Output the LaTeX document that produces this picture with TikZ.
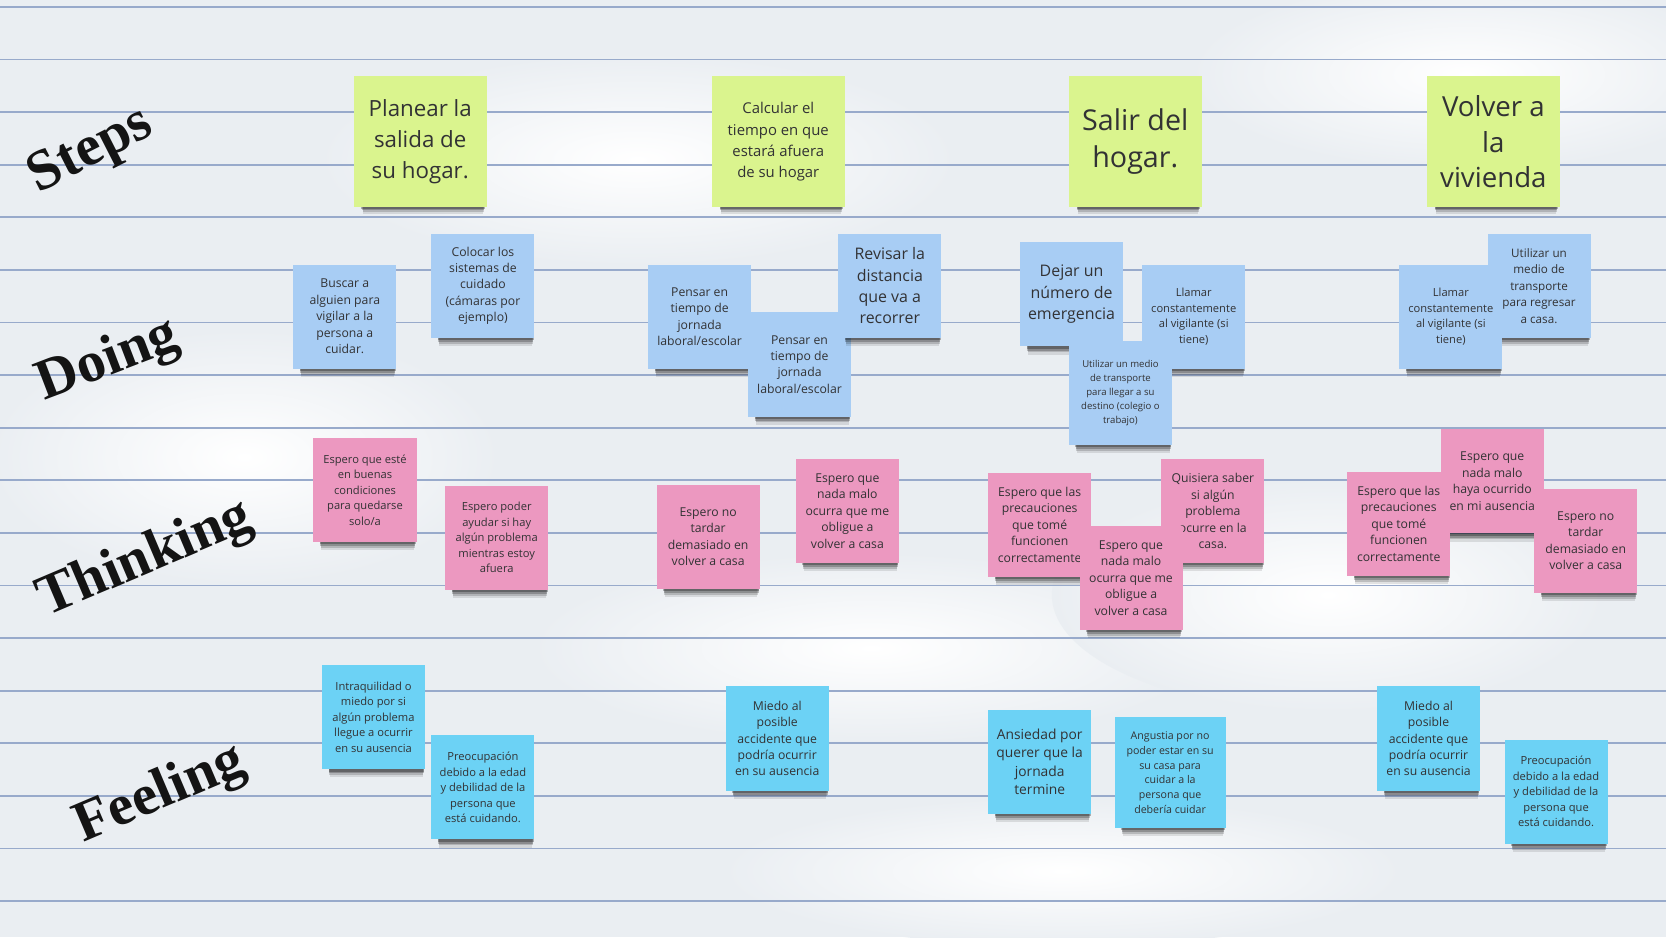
\documentclass[tikz,border=0pt]{standalone}
\usepackage{fontspec}
\setmainfont{Open Sans}
\newfontfamily\labelfont{Liberation Serif}
\usetikzlibrary{shadows}
\definecolor{paper}{RGB}{234,238,242}
\definecolor{rulec}{RGB}{152,170,203}
\definecolor{stepc}{RGB}{218,244,142}
\definecolor{doc}{RGB}{168,205,244}
\definecolor{thinkc}{RGB}{236,152,192}
\definecolor{feelc}{RGB}{108,210,245}
\definecolor{ink}{RGB}{50,50,52}
\tikzset{
  shd/.style={
    general shadow={fill=black, opacity=0.10, shadow scale=0.90, shadow xshift=3pt, shadow yshift=-14pt},
    general shadow={fill=black, opacity=0.16, shadow scale=0.91, shadow xshift=3pt, shadow yshift=-11pt},
    general shadow={fill=black, opacity=0.22, shadow scale=0.92, shadow xshift=3pt, shadow yshift=-8.5pt},
    general shadow={fill=black, opacity=0.28, shadow scale=0.93, shadow xshift=3pt, shadow yshift=-6pt}},
  note/.style={shd, anchor=north west, inner sep=0pt, outer sep=0pt, align=center, text=ink,
    minimum width=97pt, minimum height=98pt},
  stepnote/.style={note, fill=stepc, minimum width=125pt, minimum height=123pt},
  donote/.style={note, fill=doc},
  thnote/.style={note, fill=thinkc},
  fenote/.style={note, fill=feelc},
  fsA/.style={font=\fontsize{11.5}{15.5}\selectfont},
  fsB/.style={font=\fontsize{10.5}{14.6}\selectfont},
  fsC/.style={font=\fontsize{15}{20}\selectfont},
  rowlabel/.style={font=\labelfont\bfseries\fontsize{54}{54}\selectfont, text=black!92},
  ruleline/.style={draw=rulec, line width=1.7pt},
  glow/.style={inner color=white, outer color=paper}
}
\begin{document}
\begin{tikzpicture}[x=1pt, y=-1pt]
\useasboundingbox (0,0) rectangle (1568,882);
\fill[paper] (0,0) rectangle (1568,882);
% soft paper highlights
\shade[glow] (1380,70) ellipse [x radius=260, y radius=90];
\shade[glow] (230,430) ellipse [x radius=240, y radius=120];
\shade[glow] (820,610) ellipse [x radius=320, y radius=90];
\shade[glow] (1250,560) ellipse [x radius=260, y radius=110];
\shade[glow] (600,150) ellipse [x radius=300, y radius=100];
\shade[glow] (1000,820) ellipse [x radius=320, y radius=70];
\foreach \k in {0,...,17} \draw[ruleline] (0,{6.5+49.5*\k}) -- (1568,{6.5+49.5*\k});

% row labels
\node[rowlabel, rotate=27] (lsteps) at (86,143) {Steps};
\node[rowlabel, rotate=21] (ldoing) at (102,340) {Doing};
\node[rowlabel, rotate=23] (lthink) at (137,527) {Thinking};
\node[rowlabel, rotate=23] (lfeel) at (151,748) {Feeling};

% steps
\node[stepnote, font=\fontsize{21}{29}\selectfont] (s1) at (333,72) {Planear la\\salida de\\su hogar.};
\node[stepnote, font=\fontsize{14}{20}\selectfont] (s2) at (670,72) {Calcular el\\tiempo en que\\estará afuera\\de su hogar};
\node[stepnote, font=\fontsize{27}{35}\selectfont] (s3) at (1006,72) {Salir del\\hogar.};
\node[stepnote, font=\fontsize{26}{33.5}\selectfont] (s4) at (1343,72) {Volver a\\la\\vivienda};

% doing
\node[donote, fsA] (d1) at (276,249) {Buscar a\\alguien para\\vigilar a la\\persona a\\cuidar.};
\node[donote, fsA] (d2) at (406,220) {Colocar los\\sistemas de\\cuidado\\(cámaras por\\ejemplo)};
\node[donote, fsA] (d3) at (610,249) {Pensar en\\tiempo de\\jornada\\laboral/escolar};
\node[donote, fsA] (d4) at (704,294) {Pensar en\\tiempo de\\jornada\\laboral/escolar};
\node[donote, fsC] (d5) at (789,220) {Revisar la\\distancia\\que va a\\recorrer};
\node[donote, fsC] (d6) at (960,228) {Dejar un\\número de\\emergencia};
\node[donote, fsB] (d7) at (1075,249) {Llamar\\constantemente\\al vigilante (si\\tiene)};
\node[donote, font=\fontsize{9}{13}\selectfont] (d8) at (1006,321) {Utilizar un medio\\de transporte\\para llegar a su\\destino (colegio o\\trabajo)};
\node[donote, font=\fontsize{11}{15.5}\selectfont] (d9) at (1400,220) {Utilizar un\\medio de\\transporte\\para regresar\\a casa.};
\node[donote, fsB] (d10) at (1317,249) {Llamar\\constantemente\\al vigilante (si\\tiene)};

% thinking
\node[thnote, fsB] (t1) at (295,412) {Espero que esté\\en buenas\\condiciones\\para quedarse\\solo/a};
\node[thnote, fsB] (t2) at (419,457) {Espero poder\\ayudar si hay\\algún problema\\mientras estoy\\afuera};
\node[thnote, fsA] (t3) at (618,456) {Espero no\\tardar\\demasiado en\\volver a casa};
\node[thnote, fsA] (t4) at (749,432) {Espero que\\nada malo\\ocurra que me\\obligue a\\volver a casa};
\node[thnote, fsA] (t5) at (930,445) {Espero que las\\precauciones\\que tomé\\funcionen\\correctamente};
\node[thnote, fsA] (t6) at (1093,432) {Quisiera saber\\si algún\\problema\\ocurre en la\\casa.};
\node[thnote, fsA] (t7) at (1016,495) {Espero que\\nada malo\\ocurra que me\\obligue a\\volver a casa};
\node[thnote, fsA] (t8) at (1356,404) {Espero que\\nada malo\\haya ocurrido\\en mi ausencia};
\node[thnote, fsA] (t9) at (1268,444) {Espero que las\\precauciones\\que tomé\\funcionen\\correctamente};
\node[thnote, fsA] (t10) at (1444,460) {Espero no\\tardar\\demasiado en\\volver a casa};

% feeling
\node[fenote, fsB] (f1) at (303,626) {Intraquilidad o\\miedo por si\\algún problema\\llegue a ocurrir\\en su ausencia};
\node[fenote, fsB] (f2) at (406,692) {Preocupación\\debido a la edad\\y debilidad de la\\persona que\\está cuidando.};
\node[fenote, fsA] (f3) at (683,646) {Miedo al\\posible\\accidente que\\podría ocurrir\\en su ausencia};
\node[fenote, font=\fontsize{13}{17}\selectfont] (f4) at (930,668) {Ansiedad por\\querer que la\\jornada\\termine};
\node[fenote, font=\fontsize{10}{14}\selectfont, minimum width=104.5pt, minimum height=104.5pt] (f5) at (1049,675) {Angustia por no\\poder estar en su\\su casa para\\cuidar a la\\persona que\\debería cuidar};
\node[fenote, fsA] (f6) at (1296,646) {Miedo al\\posible\\accidente que\\podría ocurrir\\en su ausencia};
\node[fenote, fsB] (f7) at (1416,696) {Preocupación\\debido a la edad\\y debilidad de la\\persona que\\está cuidando.};
\end{tikzpicture}
\end{document}
